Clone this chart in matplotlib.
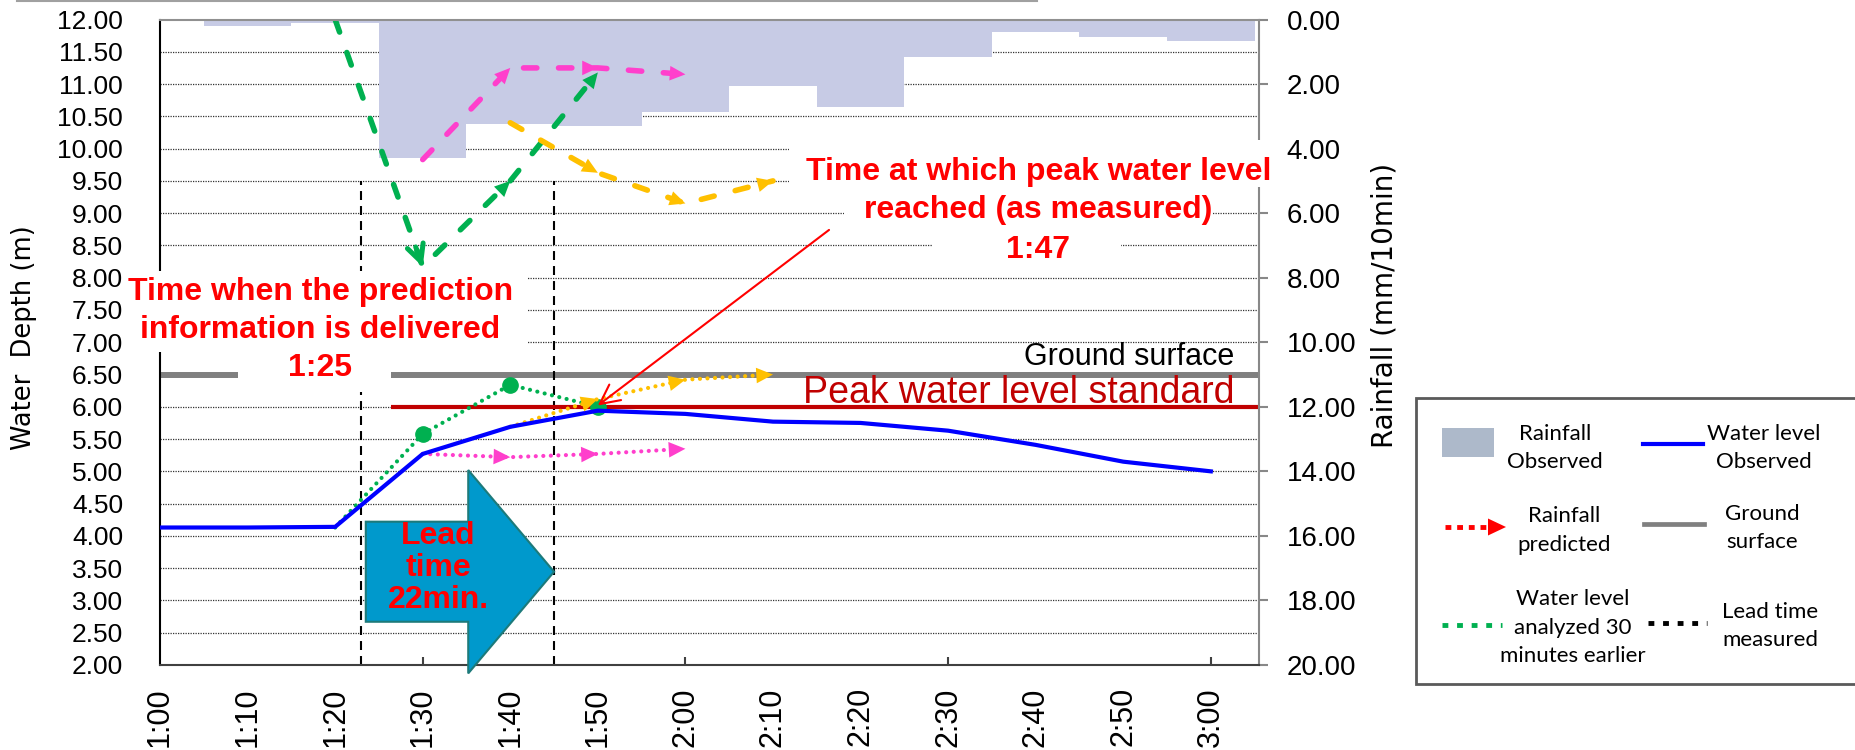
import numpy as np
import matplotlib.pyplot as plt
from matplotlib.patches import Rectangle, FancyArrow
from matplotlib.lines import Line2D

# minutes after 1:00, one value every 10 min
minutes = np.arange(0, 130, 10)
time_labels = ['1:00', '1:10', '1:20', '1:30', '1:40', '1:50', '2:00',
               '2:10', '2:20', '2:30', '2:40', '2:50', '3:00']

# observed
rain_obs = [0.0, 0.2, 0.1, 4.3, 3.25, 3.3, 2.87, 2.05, 2.7, 1.15, 0.38, 0.53, 0.67]
level_obs = [4.13, 4.13, 4.14, 5.27, 5.69, 5.94, 5.89, 5.77, 5.75, 5.63, 5.41, 5.15, 5.00]

# predictions issued at 1:20 (green), 1:30 (pink), 1:40 (yellow)
green_t = [20, 30, 40, 50]
green_rain = [0.0, 7.66, 5.0, 1.64]
green_level = [4.13, 5.58, 6.34, 6.0]
pink_t = [30, 40, 50, 60]
pink_rain = [4.34, 1.5, 1.5, 1.7]
pink_level = [5.27, 5.22, 5.27, 5.35]
yellow_t = [40, 50, 60, 70]
yellow_rain = [3.2, 4.75, 5.7, 5.0]
yellow_level = [5.69, 6.12, 6.42, 6.5]

ground_level = 6.5
peak_standard = 6.0
notice_time = 23      # dashed line "delivered"
peak_time = 45        # dashed line "peak reached"
peak_point = (50, 6.02)

W, H = 1855, 750
GREEN, PINK, YELLOW = '#00B050', '#FF3FCC', '#FFC000'

fig = plt.figure(figsize=(W / 100, H / 100), dpi=100)
ax = fig.add_axes([160 / W, 1 - 665 / H, 1099 / W, 645.5 / H])
ax2 = ax.twinx()
ax.set_position([160 / W, 1 - 665 / H, 1099 / W, 645.5 / H])
ax2.set_position([160 / W, 1 - 665 / H, 1099 / W, 645.5 / H])
ax.set_zorder(ax2.get_zorder() + 1)
ax.patch.set_visible(False)

ax.set_xlim(0, 125.5)
ax.set_ylim(2, 12)
ax2.set_ylim(20, 0)

# ---- rainfall axis: grid, bars, predicted rainfall
ax2.hlines(np.arange(1, 20), 0, 125.5, colors='#333333', lw=0.9,
           linestyles=(0, (1, 1)), zorder=0)
ax2.bar(minutes, rain_obs, width=10, color='#C7CBE5', zorder=1)


def heads(axis, xs, ys, color, scale=14, open_first=False):
    for i in range(1, len(xs)):
        x0, y0 = xs[i - 1], ys[i - 1]
        if open_first and i == 1:
            # first head is an open "V"
            axis.annotate('', xy=(xs[i], ys[i]),
                          xytext=(xs[i] - 0.08 * (xs[i] - x0), ys[i] - 0.08 * (ys[i] - y0)),
                          arrowprops=dict(arrowstyle='->,head_length=0.8,head_width=0.4',
                                          lw=3.6, color=color, shrinkA=0, shrinkB=0,
                                          mutation_scale=scale), zorder=3)
            continue
        axis.annotate('', xy=(xs[i], ys[i]), xytext=(x0, y0),
                      arrowprops=dict(arrowstyle='-|>,head_length=0.75,head_width=0.35',
                                      lw=0, color=color, shrinkA=0, shrinkB=0,
                                      mutation_scale=scale), zorder=3)


for t, r, c in [(green_t, green_rain, GREEN), (pink_t, pink_rain, PINK),
                (yellow_t, yellow_rain, YELLOW)]:
    ax2.plot(t, r, color=c, lw=4, dashes=(2.4, 3.9), dash_capstyle='round', zorder=2)
    heads(ax2, t, r, c, scale=15, open_first=(c == GREEN))

for s in ax2.spines.values():
    s.set_visible(False)
ax2.set_yticks(np.arange(0, 21, 2))
ax2.set_yticklabels([f'{v:.2f}' for v in np.arange(0, 21, 2)])
ax2.tick_params(axis='y', direction='out', length=6.5, width=1.5, color='#888888',
                pad=13.5, labelsize=20)

# ---- water level axis
ax.axhline(ground_level, color='#808080', lw=4.3, zorder=2)
ax.hlines(peak_standard, 26.4, 125.5, color='#C00000', lw=3, zorder=2.1)
ax.vlines([notice_time, peak_time], 2, 9.5, colors='black', lw=1.5,
          linestyles=(0, (4.3, 2.9)), zorder=2)

ax.plot(minutes, level_obs, color='#0000FF', lw=3, zorder=2.6)

dot = dict(lw=3, linestyle=(0, (0.01, 1.8)), dash_capstyle='round')
ax.plot(green_t, green_level, color=GREEN, zorder=2.4, **dot)
ax.plot(green_t[1:], green_level[1:], 'o', color=GREEN, ms=11, zorder=2.4)
ax.plot(pink_t, pink_level, color=PINK, zorder=2.4, **dot)
heads(ax, pink_t, pink_level, PINK, scale=16)
ax.plot(yellow_t, yellow_level, color=YELLOW, zorder=2.4, **dot)
heads(ax, yellow_t, yellow_level, YELLOW, scale=16)

# white boxes behind the annotation texts
for x0, x1, y0, y1 in [(-4, 41.9, 6.85, 8.1), (8.9, 26.4, 6.23, 6.85),
                       (71.8, 128, 9.41, 10.14), (78.1, 120.1, 8.76, 9.41),
                       (88.3, 109.7, 8.25, 8.76)]:
    ax.add_patch(Rectangle((x0, y0), x1 - x0, y1 - y0, facecolor='white',
                           edgecolor='none', zorder=3, clip_on=False))

red_font = dict(color='#FF0000', fontsize=23, fontweight='bold', family='Liberation Sans',
                ha='center', va='baseline', zorder=5)
for s, y in [('Time when the prediction', 7.66), ('information is delivered', 7.07),
             ('1:25', 6.47)]:
    ax.text(18.3, y, s, **red_font)
for s, y in [('Time at which peak water level', 9.52), ('reached (as measured)', 8.93),
             ('1:47', 8.31)]:
    ax.text(100.3, y, s, clip_on=False, **red_font)

ax.annotate('', xy=peak_point, xytext=(76.4, 8.74),
            arrowprops=dict(arrowstyle='->,head_length=0.7,head_width=0.35', color='#FF0000',
                            lw=1.5, mutation_scale=20, shrinkA=0, shrinkB=0), zorder=5)

ax.add_patch(FancyArrow(23.5, 3.445, 21.5, 0, width=1.55, head_width=3.15, head_length=9.8,
                        length_includes_head=True, facecolor='#0099CC',
                        edgecolor='#1D7A7A', lw=1.5, zorder=4, clip_on=False))
ax.text(31.8, 3.5, 'Lead\ntime\n22min.', color='#FF0000', fontsize=23, fontweight='bold',
        family='Liberation Sans', ha='center', va='center', linespacing=1.08, zorder=5)

ax.text(122.7, 6.65, 'Ground surface', fontsize=22, family='Liberation Sans',
        ha='right', va='baseline', zorder=5)
ax.text(122.7, 6.06, 'Peak water level standard', fontsize=27, color='#C00000',
        family='Liberation Sans', ha='right', va='baseline', zorder=5)

# axes styling
ax.spines['left'].set_color('black')
ax.spines['top'].set_color('#909090')
ax.spines['right'].set_color('#888888')
ax.spines['bottom'].set_color('#404040')
for s in ax.spines.values():
    s.set_linewidth(1.5)

ax.set_yticks(np.arange(2, 12.01, 0.5))
ax.set_yticklabels([f'{v:.2f}' for v in np.arange(2, 12.01, 0.5)])
ax.tick_params(axis='y', length=0, pad=26.5, labelsize=19)
ax.set_xticks(minutes)
ax.set_xticklabels(time_labels, rotation=90)
ax.tick_params(axis='x', which='major', length=0, pad=16, labelsize=22)
ax.xaxis.remove_overlapping_locs = False
ax.set_xticks([30, 60, 90, 120], minor=True)
ax.tick_params(axis='x', which='minor', direction='in', length=6, width=1.5, color='#404040')
for lab in ax.get_xticklabels() + ax.get_yticklabels() + ax2.get_yticklabels():
    lab.set_family('Liberation Sans')

fig.text(24 / W, 1 - 338 / H, 'Water  Depth (m)', rotation=90, ha='center', va='center',
         fontsize=18.5, family='DejaVu Sans')
fig.text(1385 / W, 1 - 305 / H, 'Rainfall (mm/10min)', rotation=90, ha='center',
         va='center', fontsize=20, family='DejaVu Sans')

# top rule left over from the page
fig.add_artist(Line2D([17 / W, 1037 / W], [1 - 1 / H, 1 - 1 / H], color='#A0A0A0', lw=1.5))

# ---- legend (drawn by hand in pixel positions)
def fx(px):
    return px / W


def fy(py):
    return 1 - py / H


fig.add_artist(Rectangle((fx(1416), fy(684)), fx(1870) - fx(1416), fy(398) - fy(684),
                         transform=fig.transFigure, facecolor='white',
                         edgecolor='#5A5A5A', lw=2))
fig.add_artist(Rectangle((fx(1442), fy(457)), fx(1494) - fx(1442), fy(428) - fy(457),
                         transform=fig.transFigure, facecolor='#ADB9CA', edgecolor='none'))
fig.add_artist(Line2D([fx(1643), fx(1703)], [fy(444), fy(444)], color='#0000FF', lw=3))
fig.add_artist(Line2D([fx(1644), fx(1704)], [fy(524), fy(524)], color='#808080', lw=3.4))
fig.add_artist(Line2D([fx(1445), fx(1490)], [fy(527), fy(527)], color='#FF0000', lw=3.5,
                      dashes=(1.2, 1.2)))
fig.add_artist(Line2D([fx(1442), fx(1502)], [fy(625), fy(625)], color=GREEN, lw=3.5,
                      dashes=(1.2, 1.8)))
fig.add_artist(Line2D([fx(1648), fx(1707)], [fy(623), fy(623)], color='black', lw=3.5,
                      dashes=(1.2, 1.8)))
fig.patches.append(plt.Polygon([(fx(1488), fy(518.5)), (fx(1506), fy(527)),
                                (fx(1488), fy(535.5))], closed=True,
                               transform=fig.transFigure, facecolor='#FF0000',
                               edgecolor='none'))


def legend_text(lines, cx, base, step=28.5):
    for i, s in enumerate(lines):
        fig.text(fx(cx), fy(base + i * step), s, ha='center', va='baseline',
                 fontsize=16, family='Lato', color='black')


legend_text(['Rainfall', 'Observed'], 1555, 439.5)
legend_text(['Water level', 'Observed'], 1764, 440)
legend_text(['Rainfall', 'predicted'], 1564, 522.5)
legend_text(['Ground', 'surface'], 1762, 520)
legend_text(['Water level', 'analyzed 30', 'minutes earlier'], 1573, 605)
legend_text(['Lead time', 'measured'], 1770, 618)

fig.savefig('out.png', dpi=100)
